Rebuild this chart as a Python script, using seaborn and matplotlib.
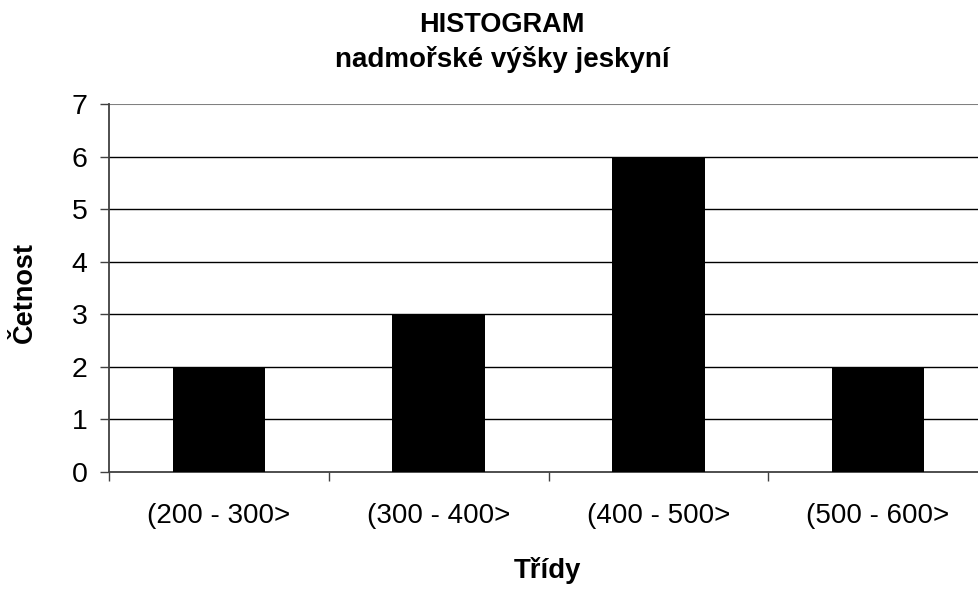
import pandas as pd
import matplotlib.pyplot as plt
import seaborn as sns
from matplotlib.ticker import FixedLocator, NullFormatter

# data
classes = ["(200 - 300>", "(300 - 400>", "(400 - 500>", "(500 - 600>"]
counts = [2, 3, 6, 2]


def main():
    df = pd.DataFrame({"trida": classes, "cetnost": counts})

    sns.set_style("white")
    plt.rcParams["font.family"] = ["Liberation Sans", "DejaVu Sans"]
    plt.rcParams["text.color"] = "black"
    plt.rcParams["xtick.color"] = "black"
    plt.rcParams["ytick.color"] = "black"

    fig = plt.figure(figsize=(9.79, 5.89), dpi=100)
    ax = fig.add_axes([109 / 979, 1 - 472 / 589, 879 / 979, 368 / 589])

    sns.barplot(data=df, x="trida", y="cetnost", color="black",
                saturation=1, width=0.42, ax=ax, zorder=3,
                edgecolor="black", linewidth=0)

    ax.set_ylim(0, 7)
    ax.set_xlim(-0.5, 3.5)
    ax.set_yticks(range(0, 8))
    for y in range(1, 7):
        ax.axhline(y, color="black", linewidth=1.0, zorder=1)
    ax.axhline(7, color="#808080", linewidth=1.5, zorder=1)

    for side in ["top", "right"]:
        ax.spines[side].set_visible(False)
    for side in ["left", "bottom"]:
        ax.spines[side].set_color("#404040")
        ax.spines[side].set_linewidth(1.3)

    ax.tick_params(axis="y", length=6.5, width=1, color="#404040",
                   labelsize=20.5, pad=9, left=True, labelcolor="black")
    ax.tick_params(axis="x", which="major", length=0, labelsize=20, pad=22,
                   labelcolor="black")
    ax.xaxis.set_minor_locator(FixedLocator([-0.5, 0.5, 1.5, 2.5, 3.5]))
    ax.xaxis.set_minor_formatter(NullFormatter())
    ax.tick_params(axis="x", which="minor", length=6.5, width=1,
                   color="#404040", bottom=True)

    ax.set_xlabel("")
    ax.set_ylabel("")
    fig.text(547 / 979, 1 - 578 / 589, "Třídy", ha="center", va="baseline",
             fontsize=19.8, fontweight="bold")
    fig.text(25 / 979, 1 - 293 / 589, "Četnost", ha="center", va="center",
             rotation=90, fontsize=19.5, fontweight="bold")
    fig.text(502 / 979, 1 - 32 / 589, "HISTOGRAM", ha="center", va="baseline",
             fontsize=19.5, fontweight="bold")
    fig.text(502 / 979, 1 - 67 / 589, "nadmořské výšky jeskyní", ha="center",
             va="baseline", fontsize=20, fontweight="bold")

    fig.savefig("out.png", dpi=100)


if __name__ == "__main__":
    main()
